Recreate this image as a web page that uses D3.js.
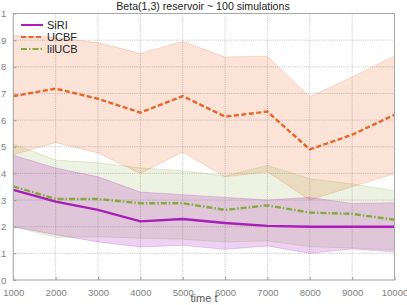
<!DOCTYPE html>
<html>
<head>
<meta charset="utf-8">
<script src="https://cdn.jsdelivr.net/npm/d3@7"></script>
<style>
  body { margin: 0; background: #fff; }
  text { font-family: "Liberation Sans", Arial, sans-serif; }
</style>
</head>
<body>
<script>
'use strict';

const times = [1000, 2000, 3000, 4000, 5000, 6000, 7000, 8000, 9000, 10000];
const yTicks = [0, 0.1, 0.2, 0.3, 0.4, 0.5, 0.6, 0.7, 0.8, 0.9, 1];

const siriMean  = [0.338, 0.294, 0.263, 0.220, 0.229, 0.214, 0.203, 0.200, 0.200, 0.200];
const siriUpper = [0.468, 0.420, 0.387, 0.330, 0.320, 0.310, 0.300, 0.310, 0.287, 0.290];
const siriLower = [0.200, 0.170, 0.143, 0.124, 0.130, 0.115, 0.128, 0.100, 0.117, 0.105];

const ucbfMean  = [0.690, 0.718, 0.680, 0.628, 0.690, 0.613, 0.632, 0.490, 0.545, 0.620];
const ucbfUpper = [0.917, 0.910, 0.890, 0.850, 0.895, 0.837, 0.840, 0.687, 0.762, 0.840];
const ucbfLower = [0.470, 0.516, 0.477, 0.400, 0.480, 0.387, 0.406, 0.300, 0.350, 0.400];

const lilMean  = [0.351, 0.304, 0.304, 0.288, 0.288, 0.263, 0.280, 0.253, 0.248, 0.226];
const lilUpper = [0.510, 0.450, 0.440, 0.420, 0.410, 0.390, 0.430, 0.380, 0.360, 0.335];
const lilLower = [0.200, 0.160, 0.162, 0.157, 0.153, 0.143, 0.147, 0.125, 0.120, 0.113];

(function() {

  const series = [
    { name: 'SiRI',   color: '#a91fb8', mean: siriMean, upper: siriUpper, lower: siriLower, dash: null,        fillOp: 0.2 },
    { name: 'UCBF',   color: '#eb6528', mean: ucbfMean, upper: ucbfUpper, lower: ucbfLower, dash: '5,2.5',     fillOp: 0.18 },
    { name: 'lilUCB', color: '#84ab3f', mean: lilMean,  upper: lilUpper,  lower: lilLower,  dash: '6,2,1.5,2', fillOp: 0.15 }
  ];

  const width = 407, height = 305;
  const plotLeft = 13.3, plotRight = 394.5, plotTop = 13.5, plotBottom = 280;

  const svg = d3.select('body').append('svg')
    .attr('width', width)
    .attr('height', height);

  const x = d3.scaleLinear().domain([1000, 10000]).range([plotLeft, plotRight]);
  const y = d3.scaleLinear().domain([0, 1]).range([plotBottom, plotTop]);

  // grid
  svg.append('g').selectAll('line')
    .data(times).enter().append('line')
    .attr('x1', d => x(d)).attr('x2', d => x(d))
    .attr('y1', plotTop).attr('y2', plotBottom)
    .attr('stroke', '#b4b4b4').attr('stroke-width', 0.8)
    .attr('stroke-dasharray', '1,1.2');

  svg.append('g').selectAll('line')
    .data(yTicks).enter().append('line')
    .attr('x1', plotLeft).attr('x2', plotRight)
    .attr('y1', d => y(d)).attr('y2', d => y(d))
    .attr('stroke', '#b4b4b4').attr('stroke-width', 0.8)
    .attr('stroke-dasharray', '1,1.2');

  // bands: orange first, then green, then purple
  const bandOrder = [series[1], series[2], series[0]];
  const area = d3.area()
    .x((d, i) => x(times[i]))
    .y0(d => y(d[0]))
    .y1(d => y(d[1]));
  const line = d3.line()
    .x((d, i) => x(times[i]))
    .y(d => y(d));

  bandOrder.forEach(s => {
    const pts = s.lower.map((v, i) => [v, s.upper[i]]);
    svg.append('path')
      .attr('d', area(pts))
      .attr('fill', s.color)
      .attr('fill-opacity', s.fillOp)
      .attr('stroke', 'none');
    [s.upper, s.lower].forEach(edge => {
      svg.append('path')
        .attr('d', line(edge))
        .attr('fill', 'none')
        .attr('stroke', s.color)
        .attr('stroke-opacity', 0.28)
        .attr('stroke-width', 0.8);
    });
  });

  // mean lines
  series.forEach(s => {
    svg.append('path')
      .attr('d', line(s.mean))
      .attr('fill', 'none')
      .attr('stroke', s.color)
      .attr('stroke-width', 2.4)
      .attr('stroke-dasharray', s.dash);
  });

  // axes
  const xAxis = d3.axisBottom(x).tickValues(times).tickSize(-3).tickPadding(9).tickFormat(d3.format('d'));
  const yAxis = d3.axisLeft(y).tickValues(yTicks).tickSize(-3).tickPadding(7)
    .tickFormat(d => d === 0 ? '0' : d === 1 ? '1' : d3.format('.1f')(d));

  const gx = svg.append('g').attr('transform', `translate(0,${plotBottom})`).call(xAxis);
  const gy = svg.append('g').attr('transform', `translate(${plotLeft},0)`).call(yAxis);
  [gx, gy].forEach(g => {
    g.select('.domain').remove();
    g.selectAll('line').attr('stroke', '#999');
    g.selectAll('text').attr('fill', '#808080').style('font-size', '9.5px');
  });

  // frame
  svg.append('rect')
    .attr('x', plotLeft).attr('y', plotTop)
    .attr('width', plotRight - plotLeft).attr('height', plotBottom - plotTop)
    .attr('fill', 'none').attr('stroke', '#a8a8a8').attr('stroke-width', 1);

  // legend
  series.forEach((s, i) => {
    const ly = 25 + i * 12;
    svg.append('line')
      .attr('x1', 21).attr('x2', 43)
      .attr('y1', ly).attr('y2', ly)
      .attr('stroke', s.color).attr('stroke-width', 2)
      .attr('stroke-dasharray', s.dash);
    svg.append('text')
      .attr('x', 47).attr('y', ly + 4)
      .style('font-size', '11px')
      .attr('fill', '#222')
      .text(s.name);
  });

  // labels
  svg.append('text')
    .attr('x', 203).attr('y', 10)
    .attr('text-anchor', 'middle')
    .style('font-size', '10.6px')
    .attr('fill', '#222')
    .text('Beta(1,3) reservoir ~ 100 simulations');

  svg.append('text')
    .attr('x', 204).attr('y', 302)
    .attr('text-anchor', 'middle')
    .style('font-size', '11px')
    .attr('fill', '#555')
    .text('time t');

})();
</script>
</body>
</html>
